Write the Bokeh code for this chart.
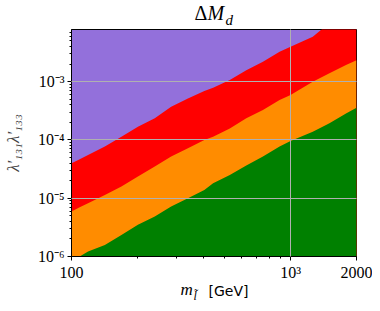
from bokeh.plotting import figure
from bokeh.models import FixedTicker, Range1d, Title
from bokeh.embed import file_html
from bokeh.resources import INLINE

# slepton mass [GeV]
masses = [100, 109, 119, 142, 169, 201, 240, 285, 340, 404, 443, 528, 628, 748, 891,
          1000, 1263, 1505, 1791, 2000]
# upper edges of the coloured regions (lambda'_131 lambda'_133)
green_top = [8.5e-7, 1.0e-6, 1.22e-6, 1.58e-6, 2.35e-6, 3.49e-6, 4.86e-6, 7.21e-6, 1.0e-5, 1.39e-5,
             1.81e-5, 2.51e-5, 3.63e-5, 5.18e-5, 7.69e-5, 9.59e-5, 1.39e-4, 1.93e-4, 2.86e-4, 3.58e-4]
orange_top = [5.92e-6, 7.0e-6, 8.21e-6, 1.14e-5, 1.59e-5, 2.35e-5, 3.49e-5, 5.18e-5, 7.19e-5, 9.98e-5,
              1.14e-4, 1.58e-4, 2.35e-4, 3.26e-4, 4.84e-4, 5.89e-4, 1.0e-3, 1.39e-3, 1.93e-3, 2.34e-3]
red_top = [3.98e-5, 4.66e-5, 5.52e-5, 7.69e-5, 1.14e-4, 1.69e-4, 2.35e-4, 3.73e-4, 5.17e-4, 6.90e-4,
           7.89e-4, 1.065e-3, 1.58e-3, 2.20e-3, 3.27e-3, 3.98e-3, 5.90e-3, 1.02e-2, 1.4e-2, 1.7e-2]
floor = 1e-8

x_ticks = [100, 1000, 2000]
x_tick_labels = ["100", "10³", "2000"]
x_minor = [200, 300, 400, 500, 600, 700, 800, 900]
y_ticks = [1e-6, 1e-5, 1e-4, 1e-3]
y_tick_labels = ["10⁻⁶", "10⁻⁵", "10⁻⁴", "10⁻³"]
y_minor = [k * 10.0 ** e for e in range(-6, -2) for k in range(2, 10) if k * 10.0 ** e < 7.9e-3]

SERIF = "Liberation Serif"

p = figure(width=372, height=303, x_axis_type="log", y_axis_type="log",
           x_range=Range1d(100, 2000), y_range=Range1d(1e-6, 7.87e-3),
           output_backend="svg", toolbar_location=None,
           min_border_left=70, min_border_right=16, min_border_top=29, min_border_bottom=47)
p.title.text = ""

p.background_fill_color = "#9370DB"
p.border_fill_color = "white"
p.outline_line_color = "black"
p.outline_line_width = 1

p.varea(x=masses, y1=[floor] * len(masses), y2=red_top, fill_color="#FF0000")
p.varea(x=masses, y1=[floor] * len(masses), y2=orange_top, fill_color="#FF8C00")
p.varea(x=masses, y1=[floor] * len(masses), y2=green_top, fill_color="#008000")

for g in (p.xgrid, p.ygrid):
    g.level = "overlay"
    g.grid_line_color = "#b0b0b0"
    g.grid_line_width = 1

p.xaxis.ticker = FixedTicker(ticks=x_ticks, minor_ticks=x_minor)
p.yaxis.ticker = FixedTicker(ticks=y_ticks, minor_ticks=y_minor)
p.xaxis.major_label_overrides = {t: s for t, s in zip(x_ticks, x_tick_labels)}
p.yaxis.major_label_overrides = {t: s for t, s in zip(y_ticks, y_tick_labels)}

for ax in (p.xaxis, p.yaxis):
    ax.axis_line_color = "black"
    ax.major_tick_line_color = "black"
    ax.minor_tick_line_color = "black"
    ax.major_tick_out = 4
    ax.major_tick_in = 0
    ax.minor_tick_out = 2
    ax.minor_tick_in = 0
    ax.major_label_standoff = 3
    ax.major_label_text_font = SERIF
    ax.major_label_text_font_size = "16px"
    ax.major_label_text_color = "black"

p.yaxis.axis_label = "λ′₁₃₁λ′₁₃₃"
p.yaxis.axis_label_text_font = SERIF
p.yaxis.axis_label_text_font_style = "italic"
p.yaxis.axis_label_text_font_size = "17px"
p.yaxis.axis_label_standoff = 12


def piece(side, text, offset, size, standoff, valign, font=SERIF, style="normal"):
    p.add_layout(Title(text=text, align="left", offset=offset, standoff=standoff,
                       vertical_align=valign, text_font=font, text_font_size=size,
                       text_font_style=style, text_color="black"), side)

# title  ΔM_d  (pieces stacked upward from the frame)
piece("above", "d", 154, "15px", 0, "top", style="italic")
piece("above", "Δ", 123, "20px", -24, "bottom")
piece("above", "M", 136, "20px", -24, "bottom", style="italic")
# x label  m_l̃ [GeV]  (pieces stacked downward below the x axis)
piece("below", "m", 109, "17px", -12, "bottom", style="italic")
piece("below", "l̃", 122, "12px", -7, "top", style="italic")
piece("below", "[GeV]", 137, "14px", -38, "top", font="DejaVu Sans")

open("out.html", "w").write(file_html(p, INLINE))
